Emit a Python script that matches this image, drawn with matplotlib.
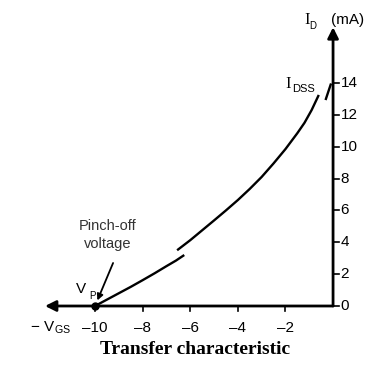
import matplotlib.pyplot as plt

plt.rcParams['font.family'] = ['Liberation Sans', 'DejaVu Sans']
plt.rcParams['mathtext.fontset'] = 'custom'
plt.rcParams['mathtext.rm'] = 'Liberation Sans'

# curva de transferencia (dos tramos, hay un corte en -6.4 V)
vgs_bajo = [-10.0, -9.5, -9.0, -8.5, -8.0, -7.5, -7.0, -6.6, -6.25]
id_bajo = [0.0, 0.4, 0.8, 1.2, 1.62, 2.05, 2.5, 2.85, 3.2]
vgs_alto = [-6.55, -6.0, -5.5, -5.0, -4.5, -4.0, -3.5, -3.0, -2.5, -2.0, -1.5, -1.2, -0.9, -0.6]
id_alto = [3.5, 4.13, 4.75, 5.37, 6.0, 6.65, 7.35, 8.1, 8.95, 9.85, 10.85, 11.5, 12.3, 13.25]
vgs_idss = [-0.3, -0.1]
id_idss = [13.0, 13.9]

vp = -10
x_ticks = [-10, -8, -6, -4, -2]
y_ticks = [0, 2, 4, 6, 8, 10, 12, 14]

fig = plt.figure(figsize=(3.74, 3.69), dpi=100)
ax = fig.add_axes([0, 0, 1, 1])
ax.set_xlim(-13.99, 1.72)
ax.set_ylim(-3.955, 19.21)
ax.axis('off')

# ejes con flechas
flecha = dict(arrowstyle='-|>', lw=2.0, color='black', mutation_scale=16,
              shrinkA=0, shrinkB=0)
ax.annotate('', xy=(-12.1, 0), xytext=(0, 0), arrowprops=flecha)
ax.annotate('', xy=(0, 17.5), xytext=(0, 0), arrowprops=flecha)

# marcas y etiquetas
for v in x_ticks:
    ax.plot([v, v], [0, -0.32], color='black', lw=1.2)
    ax.text(v, -1.35, str(v).replace('-', '\u2013'), ha='center', va='center', fontsize=11)
for i in y_ticks:
    ax.plot([0, 0.25], [i, i], color='black', lw=1.2)
    ax.text(0.32, i, str(i), ha='left', va='center', fontsize=11)

# curva
ax.plot(vgs_bajo, id_bajo, color='black', lw=1.7, solid_capstyle='butt')
ax.plot(vgs_alto, id_alto, color='black', lw=1.7, solid_capstyle='butt')
ax.plot(vgs_idss, id_idss, color='black', lw=1.7)
ax.plot([vp], [0], 'o', color='black', markersize=5)

# textos
ax.text(-1.09, 17.95, 'I', family='Liberation Serif', fontsize=12, ha='center', va='center')
ax.text(-0.85, 17.55, 'D', fontsize=7, ha='center', va='center')
ax.text(-0.1, 17.95, '(mA)', fontsize=11, ha='left', va='center')

ax.text(-1.9, 13.95, 'I', family='Liberation Serif', fontsize=12, ha='center', va='center')
ax.text(-1.72, 13.65, 'DSS', fontsize=8, ha='left', va='center')

ax.text(-11.85, -1.35, r'$\mathrm{-\ V_{GS}}$', fontsize=11, ha='center', va='center')

ax.text(-10.6, 1.05, 'V', fontsize=11, ha='center', va='center')
ax.text(-10.1, 0.65, 'P', fontsize=7, ha='center', va='center')

ax.text(-9.45, 4.45, 'Pinch-off\nvoltage', fontsize=10.5, ha='center', va='center',
        color='#333333', linespacing=1.3)
ax.annotate('', xy=(-9.9, 0.35), xytext=(-9.24, 2.7),
            arrowprops=dict(arrowstyle='-|>', lw=1.3, color='black', mutation_scale=9,
                            shrinkA=0, shrinkB=0))

ax.text(-5.8, -2.76, 'Transfer characteristic', family='Liberation Serif',
        fontweight='bold', fontsize=14, ha='center', va='center')

fig.savefig('out.png', dpi=100)
